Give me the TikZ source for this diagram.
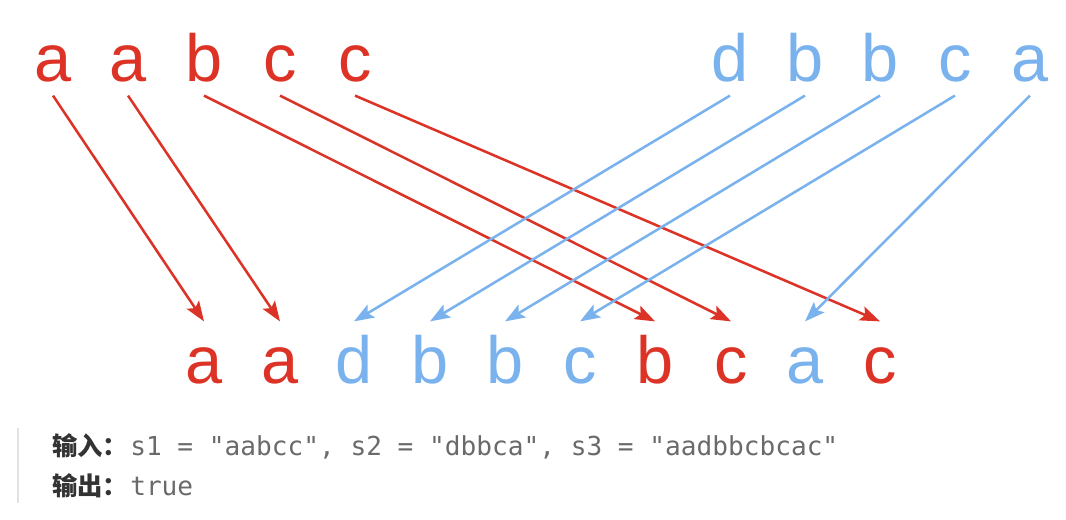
\documentclass[tikz,border=0pt]{standalone}
\usepackage{fontspec}
\setmainfont{Liberation Sans}
\newfontfamily\cjk{Noto Sans CJK SC}
\newfontfamily\codefont{DejaVu Sans Mono}
\usetikzlibrary{arrows.meta}
\definecolor{sred}{HTML}{DD3326}
\definecolor{sblue}{HTML}{7AB2EE}
\definecolor{bargray}{HTML}{E2E2E2}
\definecolor{labgray}{HTML}{333333}
\definecolor{codegray}{HTML}{6A6A6A}
\tikzset{
  letter/.style={anchor=base, inner sep=10pt, text height=36pt, text depth=0pt,
    font=\fontsize{50}{50}\selectfont},
  red/.style={text=sred},
  blue/.style={text=sblue},
  link/.style={line width=1.9pt, -{Stealth[length=15pt,width=11pt,inset=3pt]}},
  label/.style={anchor=base west, inner sep=0pt, text=labgray,
    font=\cjk\bfseries\fontsize{19}{19}\selectfont},
  code/.style={anchor=base west, inner sep=0pt, text=codegray,
    font=\codefont\fontsize{19.6}{19.6}\selectfont}
}
\begin{document}
\begin{tikzpicture}[x=0.75pt,y=-0.75pt]
      \useasboundingbox (0,0) rectangle (1066,520);
      % s1 and s2
      \draw
        (53,82) node[letter,red] (r1){a}
        (128,82) node[letter,red] (r2){a}
        (204,82) node[letter,red] (r3){b}
        (280,82) node[letter,red] (r4){c}
        (355,82) node[letter,red] (r5){c}
        (730,82) node[letter,blue] (u1){d}
        (805,82) node[letter,blue] (u2){b}
        (880,82) node[letter,blue] (u3){b}
        (955,82) node[letter,blue] (u4){c}
        (1030,82) node[letter,blue] (u5){a};
      % s3
      \draw
        (204,383) node[letter,red] (m1){a}
        (280,383) node[letter,red] (m2){a}
        (354,383) node[letter,blue] (m3){d}
        (430,383) node[letter,blue] (m4){b}
        (505,383) node[letter,blue] (m5){b}
        (580,383) node[letter,blue] (m6){c}
        (655,383) node[letter,red] (m7){b}
        (731,383) node[letter,red] (m8){c}
        (805,383) node[letter,blue] (m9){a}
        (880,383) node[letter,red] (m10){c};
      \begin{scope}[link, draw=sred]
        \draw (r1.south) to (m1.north);
        \draw (r2.south) to (m2.north);
        \draw (r3.south) to (m7.north);
        \draw (r4.south) to (m8.north);
        \draw (r5.south) to (m10.north);
      \end{scope}
      \begin{scope}[link, draw=sblue]
        \draw (u1.south) to (m3.north);
        \draw (u2.south) to (m4.north);
        \draw (u3.south) to (m5.north);
        \draw (u4.south) to (m6.north);
        \draw (u5.south) to (m9.north);
      \end{scope}
      % example
      \draw[bargray, line width=2.2pt] (18,428) -- (18,503);
      \draw
        (52,455) node[label] (in){输入：}
        (130,455) node[code] (inval){s1 = "aabcc", s2 = "dbbca", s3 = "aadbbcbcac"}
        (52,495) node[label] (out){输出：}
        (130,495) node[code] (outval){true};
    \end{tikzpicture}
\end{document}
